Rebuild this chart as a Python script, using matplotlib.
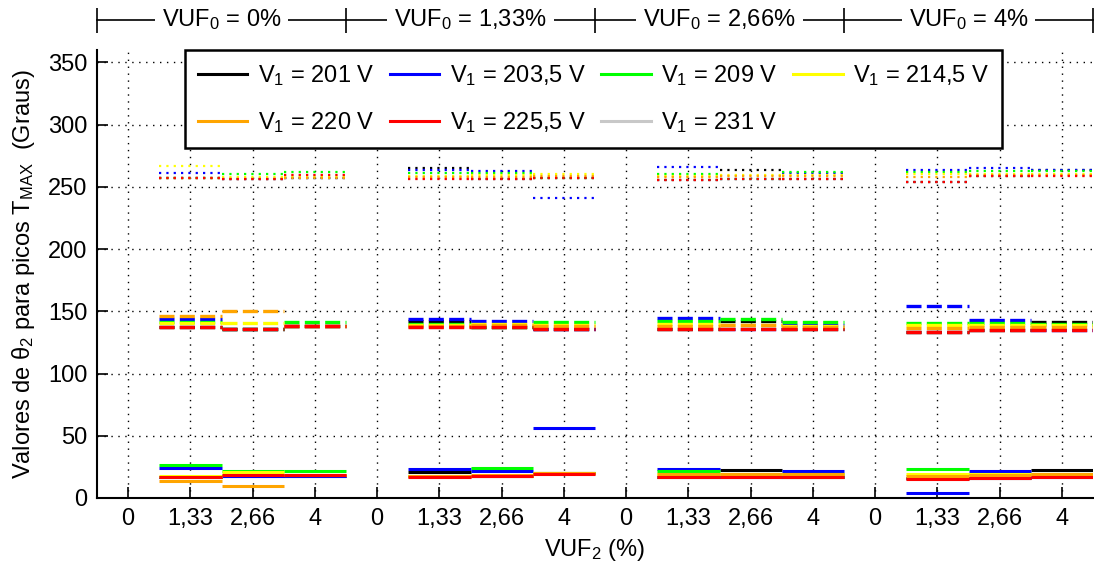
import matplotlib
matplotlib.use("Agg")
import matplotlib.pyplot as plt
import matplotlib.transforms as mtransforms
from matplotlib.lines import Line2D
import numpy as np

plt.rcParams['font.family'] = ['Liberation Sans', 'DejaVu Sans']
plt.rcParams['mathtext.fontset'] = 'custom'
plt.rcParams['mathtext.rm'] = 'Liberation Sans'
plt.rcParams['mathtext.it'] = 'Liberation Sans:italic'

# ---------------- data ----------------
group_labels = ["VUF$_\\mathregular{0}$ = 0%", "VUF$_\\mathregular{0}$ = 1,33%",
                "VUF$_\\mathregular{0}$ = 2,66%", "VUF$_\\mathregular{0}$ = 4%"]
tick_labels = ["0", "1,33", "2,66", "4"]
series_names = ["V$_\\mathregular{1}$ = 201 V", "V$_\\mathregular{1}$ = 203,5 V",
                "V$_\\mathregular{1}$ = 209 V", "V$_\\mathregular{1}$ = 214,5 V",
                "V$_\\mathregular{1}$ = 220 V", "V$_\\mathregular{1}$ = 225,5 V",
                "V$_\\mathregular{1}$ = 231 V"]
series_colors = ["#000000", "#0000ff", "#00ff00", "#ffff00", "#ffa500", "#ff0000", "#c8c8c8"]

# each list: 4 groups (VUF0) x 3 positions (VUF2 = 1,33 / 2,66 / 4)
# solid lines (lower peak)
solid_201   = [17.0, 18.0, 18.0,   21.1, 18.0, 20.0,   17.0, 22.2, 17.0,   16.0, 16.0, 22.5]
solid_203_5 = [23.8, 18.0, 18.0,   23.3, 21.9, 56.2,   23.0, 17.0, 21.7,    3.7, 21.7, 17.0]
solid_209   = [26.5, 21.7, 21.7,   18.0, 24.1, 20.0,   21.4, 19.0, 19.0,   23.0, 19.0, 19.0]
solid_214_5 = [17.7, 20.9, 18.2,   18.0, 18.0, 20.0,   19.3, 19.3, 19.3,   19.3, 19.0, 19.3]
solid_220   = [13.4,  9.6, 18.2,   17.7, 18.5, 20.0,   19.0, 19.0, 19.0,   17.7, 18.5, 19.0]
solid_225_5 = [16.9, 18.2, 18.2,   17.2, 17.5, 19.5,   17.1, 17.0, 17.0,   15.5, 16.0, 17.0]
solid_231   = [16.9, 18.2, 18.2,   17.2, 17.5, 19.5,   17.1, 17.0, 17.0,   15.5, 16.0, 17.0]

# dashed lines (middle peak)
dash_201   = [137.5, 136.2, 138.6,   142.4, 137.5, 136.2,   136.2, 142.3, 136.2,   133.5, 135.4, 141.5]
dash_203_5 = [143.7, 136.2, 138.6,   144.0, 142.4, 136.2,   145.0, 136.2, 139.4,   154.1, 143.4, 135.4]
dash_209   = [141.3, 136.2, 141.3,   140.2, 137.5, 141.3,   142.0, 143.7, 141.3,   141.0, 141.0, 140.0]
dash_214_5 = [140.5, 141.0, 138.6,   139.0, 140.0, 139.4,   140.0, 138.9, 138.0,   139.1, 139.0, 139.0]
dash_220   = [146.1, 150.4, 138.6,   138.5, 139.0, 138.0,   138.5, 138.9, 137.5,   137.0, 137.5, 137.5]
dash_225_5 = [137.5, 136.2, 138.6,   137.5, 137.5, 136.2,   136.2, 136.2, 136.2,   133.5, 135.4, 135.4]
dash_231   = [137.5, 136.2, 138.6,   137.5, 137.5, 136.2,   136.2, 136.2, 136.2,   133.5, 135.4, 135.4]

# dotted lines (upper peak)
dot_201   = [257.5, 256.1, 257.5,   265.5, 256.6, 257.5,   255.8, 263.8, 256.6,   253.8, 258.7, 263.3]
dot_203_5 = [261.2, 256.1, 257.5,   263.8, 262.7, 241.0,   266.0, 256.6, 261.4,   263.8, 265.5, 263.3]
dot_209   = [257.5, 260.1, 261.7,   261.4, 261.0, 257.5,   260.6, 256.6, 262.0,   262.0, 263.0, 262.5]
dot_214_5 = [266.5, 258.0, 258.0,   259.0, 259.5, 260.1,   259.0, 259.5, 259.5,   260.0, 260.0, 260.0]
dot_220   = [257.5, 256.1, 257.5,   258.0, 258.0, 259.0,   258.0, 258.5, 259.0,   258.0, 259.5, 259.5]
dot_225_5 = [257.5, 256.1, 259.3,   256.6, 256.6, 257.5,   255.8, 256.6, 256.6,   253.8, 258.7, 258.7]
dot_231   = [257.5, 256.1, 259.3,   256.6, 256.6, 257.5,   255.8, 256.6, 256.6,   253.8, 258.7, 258.7]

solid_data = [solid_201, solid_203_5, solid_209, solid_214_5, solid_220, solid_225_5, solid_231]
dash_data = [dash_201, dash_203_5, dash_209, dash_214_5, dash_220, dash_225_5, dash_231]
dot_data = [dot_201, dot_203_5, dot_209, dot_214_5, dot_220, dot_225_5, dot_231]

# ---------------- figure ----------------
FS = 17
fig = plt.figure(figsize=(10.94, 5.64), dpi=100)
ax = fig.add_axes([97 / 1094, 66 / 564, 996 / 1094, 448 / 564])

n_groups = len(group_labels)
n_ticks = len(tick_labels)
positions = np.arange(n_groups * n_ticks)

styles = [("-", 2.2, solid_data),
          ((0, (4.5, 1.6)), 2.4, dash_data),
          ((0, (1, 2.3)), 1.6, dot_data)]

draw_order = [6, 0, 1, 2, 3, 4, 5]
for ls, lw, data in styles:
    for si in draw_order:
        vals = np.asarray(data[si])
        for g in range(n_groups):
            v = vals[g * 3:(g + 1) * 3]
            centers = positions[g * n_ticks + 1:(g + 1) * n_ticks]
            ax.hlines(v, centers - 0.5, centers + 0.5, colors=series_colors[si],
                      linewidth=lw, linestyles=[ls], zorder=3)

ax.set_xlim(-0.5, n_groups * n_ticks - 0.5)
ax.set_ylim(0, 360)
ax.set_yticks(np.arange(0, 351, 50))
ax.set_xticks(positions)
ax.set_xticklabels(tick_labels * n_groups)
ax.tick_params(direction="in", length=8, width=1.2, labelsize=FS, pad=7, colors="black")
ax.grid(True, linestyle=(0, (1, 4)), linewidth=1.0, color="black")
ax.set_axisbelow(True)
for s in ["top", "right"]:
    ax.spines[s].set_visible(False)
for s in ["left", "bottom"]:
    ax.spines[s].set_linewidth(1.5)

ax.set_ylabel("Valores de θ$_\\mathregular{2}$ para picos T$_\\mathregular{MAX}$  (Graus)",
              fontsize=FS, labelpad=8)
ax.set_xlabel("VUF$_\\mathregular{2}$ (%)", fontsize=FS, labelpad=5)

# header with group labels
trans = mtransforms.blended_transform_factory(ax.transData, ax.transAxes)
yh = 1.067
bounds = np.arange(n_groups + 1) * n_ticks - 0.5
ax.plot([bounds[0], bounds[-1]], [yh, yh], color="black", lw=1.2,
        transform=trans, clip_on=False)
ax.plot(bounds, [yh] * len(bounds), linestyle="none", marker="|", markersize=18,
        markeredgewidth=1.2, color="black", transform=trans, clip_on=False)
for g, lab in enumerate(group_labels):
    cx = (bounds[g] + bounds[g + 1]) / 2
    ax.text(cx, yh, lab, transform=trans, ha="center", va="center", fontsize=FS,
            bbox=dict(facecolor="white", edgecolor="none", pad=5))

# legend (row-wise order like the reference)
ncol = 4
nrow = int(np.ceil(len(series_names) / ncol))
order = [r * ncol + c for c in range(ncol) for r in range(nrow)
         if r * ncol + c < len(series_names)]
handles = [Line2D([], [], color=series_colors[i], lw=2.2) for i in order]
labels = [series_names[i] for i in order]
leg = ax.legend(handles, labels, ncol=ncol, loc="upper left",
                bbox_to_anchor=(0.088, 1.0), borderaxespad=0, fontsize=FS,
                frameon=True, fancybox=False, edgecolor="black", framealpha=1,
                handlelength=2.1, handletextpad=0.45, columnspacing=0.65,
                labelspacing=0.93, borderpad=0.55)
leg.get_frame().set_linewidth(1.8)
leg.set_zorder(5)

fig.savefig("out.png", dpi=100)
